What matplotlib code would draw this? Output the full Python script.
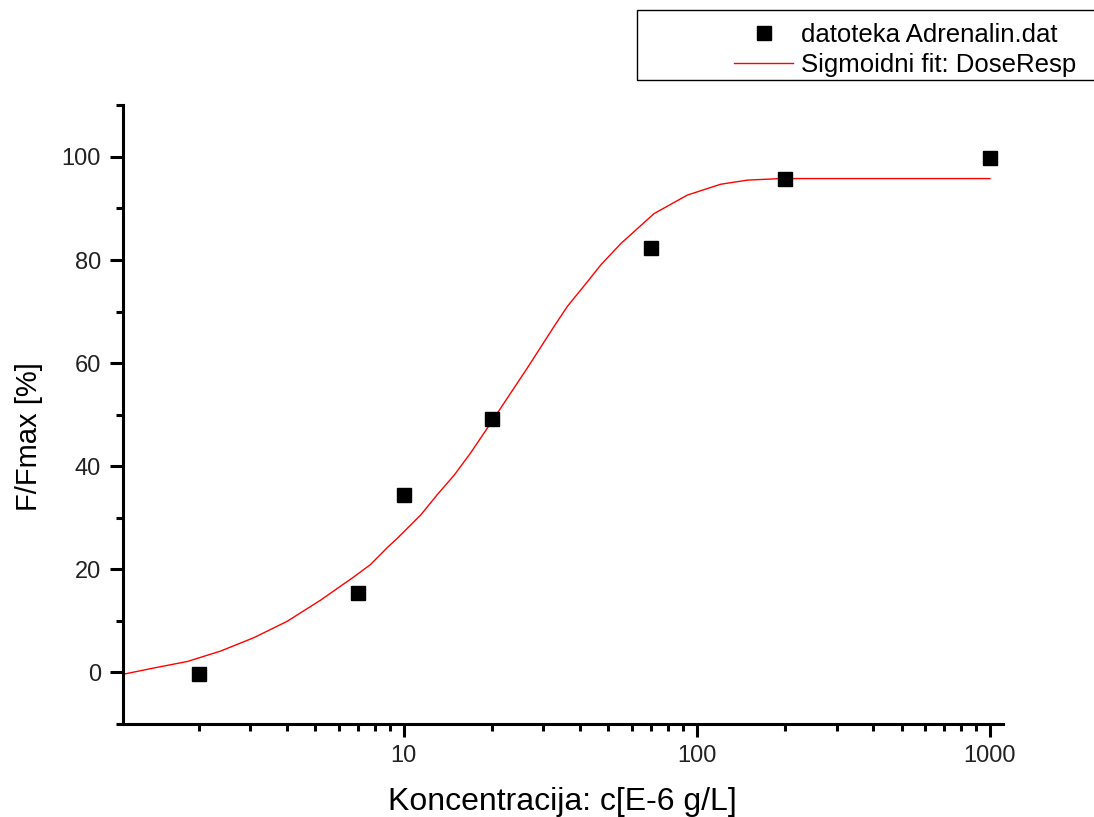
import numpy as np
import matplotlib.pyplot as plt
from matplotlib.patches import Rectangle
from matplotlib.ticker import LogLocator, MultipleLocator, FixedLocator, FixedFormatter

plt.rcParams["font.family"] = ["Liberation Sans", "DejaVu Sans"]

# izmjereni podaci
konc = [2, 7, 10, 20, 70, 200, 1000]
odziv = [-0.3, 15.3, 34.4, 49.1, 82.4, 95.7, 99.7]

# sigmoidni fit, ocitano s krivulje
fit_x = [1.1, 1.41, 1.83, 2.37, 3.08, 4.01, 5.21, 6.76, 7.71, 8.8, 9.52,
         11.43, 13.0, 14.9, 16.9, 19.8, 26.4, 32.6, 36.2, 42.4, 47.0, 55.1,
         71.5, 92.9, 120.7, 148.9, 193.6, 300, 1000]
fit_y = [-0.4, 0.85, 2.1, 4.1, 6.7, 9.9, 14.0, 18.5, 20.9, 24.2, 26.0,
         30.5, 34.4, 38.3, 42.5, 48.3, 59.0, 67.1, 71.0, 75.8, 79.0, 83.2,
         89.0, 92.6, 94.7, 95.5, 95.8, 95.8, 95.8]

xticks = [10, 100, 1000]
xtick_labels = ["10", "100", "1000"]

fig = plt.figure(figsize=(10.94, 8.17), dpi=100)
ax = fig.add_axes([0.112, 0.114, 0.805, 0.757])

ax.plot(fit_x, fit_y, "-", color="red", lw=1.0, label="Sigmoidni fit: DoseResp")
ax.plot(konc, odziv, "s", color="black", ms=10, ls="none",
        label="datoteka Adrenalin.dat")

ax.set_xscale("log")
ax.set_xlim(1.1, 1110)
ax.set_ylim(-10, 110)

ax.xaxis.set_major_locator(FixedLocator(xticks))
ax.xaxis.set_major_formatter(FixedFormatter(xtick_labels))
ax.xaxis.set_minor_locator(LogLocator(base=10, subs=np.arange(2, 10)))
ax.xaxis.set_minor_formatter(plt.NullFormatter())
ax.yaxis.set_major_locator(MultipleLocator(20))
ax.yaxis.set_minor_locator(MultipleLocator(10))

for s in ["top", "right"]:
    ax.spines[s].set_visible(False)
for s in ["left", "bottom"]:
    ax.spines[s].set_linewidth(2.2)

ax.tick_params(which="major", length=9.5, width=2.2, labelsize=17,
               labelcolor="#222222", pad=6)
ax.tick_params(which="minor", length=5, width=2.2)

ax.set_xlabel("Koncentracija: c[E-6 g/L]", fontsize=23, labelpad=14)
ax.set_ylabel("F/Fmax [%]", fontsize=21)
ax.yaxis.set_label_coords(-0.09, 0.464)

# okvir legende
fig.add_artist(Rectangle((637 / 1094, 1 - 80 / 817), 0.5, 70 / 817,
                         transform=fig.transFigure, fill=False,
                         edgecolor="black", lw=1.0))
h, l = ax.get_legend_handles_labels()
fig.legend([h[1], h[0]], [l[1], l[0]], loc="upper left",
           bbox_to_anchor=(716 / 1094, 1 - 5 / 817), frameon=False,
           fontsize=18.5, handlelength=2.3, handletextpad=0.3,
           labelspacing=0.22, borderpad=0.2, markerscale=0.95)

plt.savefig("out.png", dpi=100)
plt.close()
